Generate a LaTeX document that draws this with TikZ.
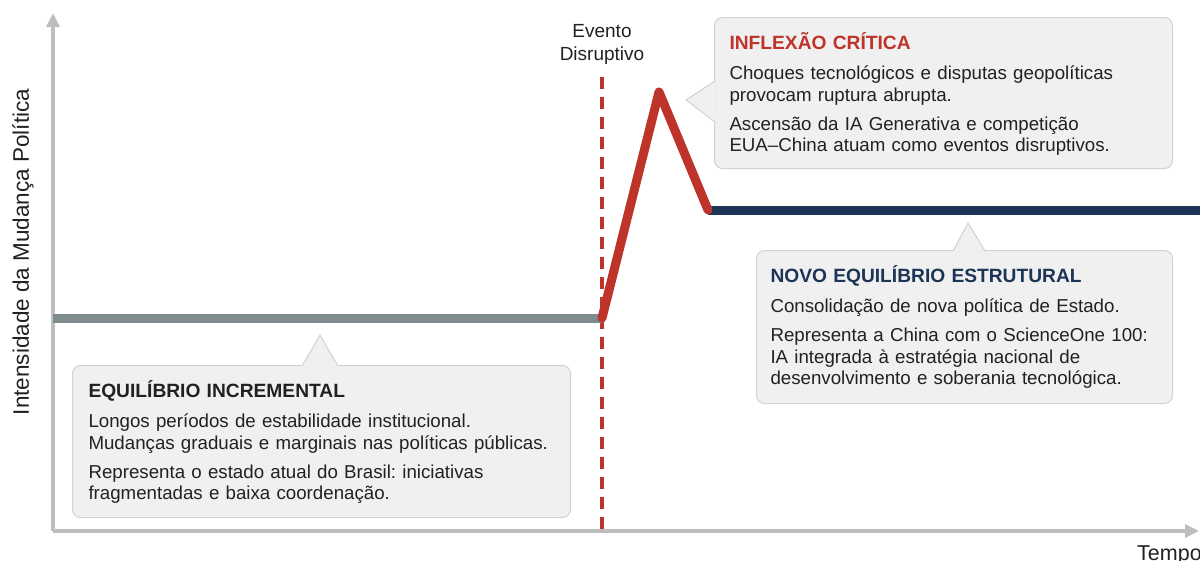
\documentclass[tikz,border=0pt]{standalone}
\usepackage{fontspec}
\setmainfont{Liberation Sans}
\usetikzlibrary{arrows.meta}
\definecolor{axisgray}{RGB}{190,190,190}
\definecolor{stablegray}{RGB}{127,140,141}
\definecolor{shockred}{RGB}{190,52,42}
\definecolor{statenavy}{RGB}{28,52,86}
\definecolor{boxfill}{RGB}{240,240,240}
\definecolor{boxline}{RGB}{210,210,210}
\definecolor{textdark}{RGB}{33,33,33}
\frenchspacing
\tikzset{
	node_box/.style = {
		rectangle,
		rounded corners=8pt,
		draw=boxline,
		fill=boxfill,
		line width=1pt,
		anchor=north west,
		align=left,
		inner ysep=0pt,
		text=textdark,
		font=\fontsize{18.7}{21.5}\selectfont
	},
	node_pointer/.style = {
		draw=boxline,
		fill=boxfill,
		line width=1pt,
		line join=round
	},
	node_label/.style = {
		text=textdark,
		inner sep=0pt
	},
	line_axis/.style = {
		draw=axisgray,
		line width=3.5pt,
		->
	},
	line_phase/.style = {
		line width=9pt
	},
}
\newcommand{\boxhead}[2]{\rule{0pt}{32pt}{\fontsize{19.2}{21.5}\selectfont\bfseries\color{#1}#2}}
\newcommand{\boxfoot}[1]{\rule[-#1]{0pt}{#1}}

\begin{document}
\begin{tikzpicture}[x=1pt, y=-1pt, >={Triangle[length=14pt,width=13pt]}]
\useasboundingbox (0,0) rectangle (1200,560);

% axes
\coordinate (origin) at (53,531);
\coordinate (ytip) at (53,13);
\coordinate (xtip) at (1199,531);
\draw [line_axis] (origin) -- (ytip);
\draw [line_axis] (origin) -- (xtip);
\node [node_label, rotate=90, font=\fontsize{22.5}{27}\selectfont] (ylabel) at (23,252) {Intensidade da Mudança Política};
\node [node_label, anchor=base west, font=\fontsize{21.5}{25}\selectfont] (xlabel) at (1137,560) {Tempo};

% event marker
\coordinate (eventtop) at (602,77);
\coordinate (eventbottom) at (602,531);
\draw [shockred, line width=3.5pt, dash pattern=on 12pt off 8pt] (eventtop) -- (eventbottom);
\node [node_label, align=center, font=\fontsize{19}{23}\selectfont] (eventlabel) at (602,44) {Evento\\Disruptivo};

% phases
\coordinate (stablestart) at (53,318);
\coordinate (shock) at (602,318);
\coordinate (peak) at (659,92);
\coordinate (settle) at (708,210);
\coordinate (stateend) at (1200,210);
\draw [line_phase, stablegray] (stablestart) -- (shock);
\draw [line_phase, statenavy] (settle) -- (stateend);
\draw [line_phase, shockred, line cap=round, line join=round] (shock) -- (peak) -- (settle);

% boxes
\node [node_box, inner xsep=16pt, text width=466pt] (eqbox) at (72,365) {%
	\boxhead{textdark}{EQUILÍBRIO INCREMENTAL}\\[8.5pt]
	Longos períodos de estabilidade institucional.\\
	Mudanças graduais e marginais nas políticas públicas.\\[7.5pt]
	Representa o estado atual do Brasil: iniciativas\\
	fragmentadas e baixa coordenação.\boxfoot{18pt}};
\path [node_pointer] (302,366) -- (320,335) -- (338,366);

\node [node_box, inner xsep=15pt, text width=428pt] (shockbox) at (714,17) {%
	\boxhead{shockred}{INFLEXÃO CRÍTICA}\\[8.5pt]
	Choques tecnológicos e disputas geopolíticas\\
	provocam ruptura abrupta.\\[7.5pt]
	Ascensão da IA Generativa e competição\\
	EUA–China atuam como eventos disruptivos.\boxfoot{17pt}};
\path [node_pointer] (715,81) -- (686,100) -- (715,122);

\node [node_box, inner xsep=14pt, text width=388pt] (statebox) at (756,250) {%
	\boxhead{statenavy}{NOVO EQUILÍBRIO ESTRUTURAL}\\[8.5pt]
	Consolidação de nova política de Estado.\\[7.5pt]
	Representa a China com o ScienceOne 100:\\
	IA integrada à estratégia nacional de\\
	desenvolvimento e soberania tecnológica.\boxfoot{19pt}};
\path [node_pointer] (953,251) -- (968,223) -- (985,251);
\end{tikzpicture}
\end{document}
